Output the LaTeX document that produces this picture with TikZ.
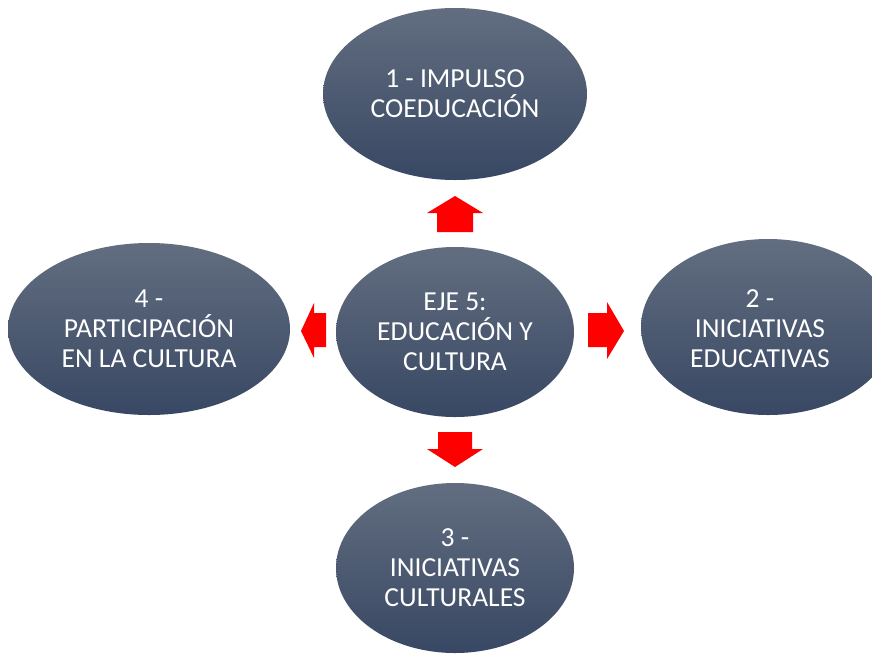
\documentclass[tikz,border=0pt]{standalone}
\usepackage{fontspec}
\setmainfont{Carlito}
\usetikzlibrary{shapes.geometric}
\definecolor{elltop}{RGB}{98,110,128}
\definecolor{ellbot}{RGB}{56,71,99}
\definecolor{arrred}{RGB}{255,0,0}
\tikzset{
  ovaltext/.style={text=white, align=center, font=\fontsize{27.5}{30}\selectfont},
  oval/.style={ellipse, inner sep=0pt, top color=elltop, bottom color=ellbot, draw=none, ovaltext},
  blockarrow/.style={fill=arrred, draw=none}
}
\begin{document}
\begin{tikzpicture}[x=1pt,y=-1pt]
\useasboundingbox (0,0) rectangle (872,654);
\fill[white] (0,0) rectangle (872,654);
\clip (0,0) rectangle (872,654);
\node[oval, minimum width=264pt, minimum height=172pt] (top) at (455,94) {1 - IMPULSO\\COEDUCACIÓN};
\node[oval, minimum width=238pt, minimum height=170pt] (center) at (455,332) {EJE 5:\\EDUCACIÓN Y\\CULTURA};
\node[oval, minimum width=282pt, minimum height=172pt] (left) at (149,329) {4 -\\PARTICIPACIÓN\\EN LA CULTURA};
\node[oval, minimum width=254pt, minimum height=176pt] (right) at (768,327) {};
\node[ovaltext] (righttext) at (760,329) {2 -\\INICIATIVAS\\EDUCATIVAS};
\node[oval, minimum width=238pt, minimum height=170pt] (bottom) at (455,568) {3 -\\INICIATIVAS\\CULTURALES};
% block arrows
\fill[blockarrow] (437,232) -- (437,213) -- (427,213) -- (455,196) -- (483,213) -- (473,213) -- (473,232) -- cycle;
\fill[blockarrow] (438,432) -- (438,449) -- (427,449) -- (455,467) -- (483,449) -- (472,449) -- (472,432) -- cycle;
\fill[blockarrow] (326,313) -- (314,313) -- (314,303) -- (301,331) -- (314,358) -- (314,347) -- (326,347) -- cycle;
\fill[blockarrow] (588,313) -- (607,313) -- (607,302) -- (624,331) -- (607,359) -- (607,347) -- (588,347) -- cycle;
\end{tikzpicture}
\end{document}
